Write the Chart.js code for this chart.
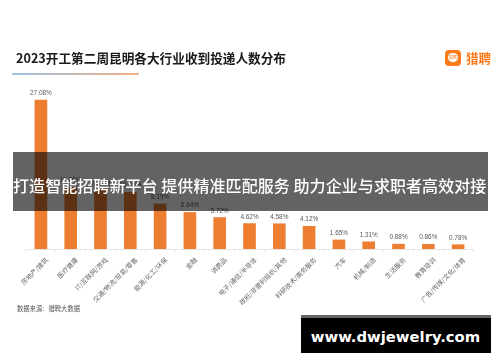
<!DOCTYPE html>
<html><head><meta charset="utf-8">
<script src="https://cdn.jsdelivr.net/npm/chart.js@4"></script>
<style>
html,body{margin:0;padding:0;background:#fff;width:500px;height:362px;overflow:hidden;font-family:"Noto Sans CJK SC","Noto Sans",sans-serif}
#wrap{position:absolute;left:0;top:0;width:500px;height:362px;filter:blur(.45px)}
#wrap canvas{position:absolute;left:0;top:0}
.a{position:absolute;white-space:nowrap}
</style></head><body>
<div id="wrap">
<canvas id="c" width="500" height="362"></canvas>
<div class="a" style="left:16px;top:48.5px;font-size:12.65px;line-height:18px;font-weight:700;color:#1a1a1a">2023开工第二周昆明各大行业收到投递人数分布</div>
<div class="a" style="left:12px;top:73px;width:127px;height:2px;background:linear-gradient(90deg,#9dc3e6,#f4b183)"></div>
<div class="a" style="left:445px;top:50px;width:16px;height:16px;border-radius:4px;background:#ff7a1a"></div>
<div class="a" style="left:448px;top:53px;width:10px;height:9px;border-radius:5px;background:#fff;color:#ff7a1a;font-size:4px;line-height:9px;text-align:center">猎聘</div>
<div class="a" style="left:466px;top:49px;font-size:12.6px;line-height:18px;font-weight:700;color:#ff7a1a">猎聘</div>
<div class="a" style="left:17px;top:304px;font-size:6.3px;line-height:10px;color:#555">数据来源：猎聘大数据</div>
<div class="a" style="left:13px;top:152px;width:475px;height:59px;background:rgba(0,0,0,.61)"></div>
<div class="a" style="left:13px;top:172px;font-size:16px;letter-spacing:.07px;line-height:26px;font-weight:500;color:#fff">打造智能招聘新平台 提供精准匹配服务 助力企业与求职者高效对接</div>
<div class="a" style="left:301px;top:315px;width:190px;height:38px;background:#000"></div>
<div class="a" style="left:301px;top:315px;width:190px;height:3px;background:#666"></div>
<div class="a" style="left:310px;top:326px;width:171px;text-align:center;font-family:'DejaVu Sans';font-size:14.8px;line-height:22px;font-weight:700;color:#fff">www.dwjewelry.com</div>
</div>
<script>
const categories=["房地产/建筑","医疗健康","IT/互联网/游戏","交通/物流/贸易/零售","能源/化工/环保","金融","消费品","电子/通信/半导体","政府/非营利组织/其他","科研技术/商务服务","汽车","机械/制造","生活服务","教育培训","广告/传媒/文化/体育"];
const shares=[27.08,11.2,10.8,10.3,8.19,6.64,5.72,4.62,4.58,4.12,1.65,1.31,0.88,0.86,0.78];
const labelPlugin={id:'valueLabels',afterDatasetsDraw(chart){
  const g=chart.ctx,m=chart.getDatasetMeta(0);
  g.save();g.font='6.4px "Liberation Sans"';g.fillStyle='#595959';g.textAlign='center';g.textBaseline='alphabetic';
  m.data.forEach((b,i)=>g.fillText(shares[i].toFixed(2)+'%',b.x,b.y-5));
  g.restore();
}};
new Chart(document.getElementById('c'),{
  type:'bar',
  data:{labels:categories,datasets:[{data:shares,backgroundColor:'#ED7D31',barThickness:12}]},
  plugins:[labelPlugin],
  options:{
    responsive:false,animation:false,
    layout:{padding:{left:26,right:27,top:84,bottom:0}},
    plugins:{legend:{display:false},tooltip:{enabled:false}},
    scales:{
      y:{display:false,min:0,max:30},
      x:{
        afterFit(s){s.height=113},
        border:{color:'#e4e4e4'},
        grid:{display:true,drawOnChartArea:false,drawTicks:true,tickLength:3,color:'#e4e4e4'},
        ticks:{color:'#666',font:{size:6.5,family:'"Noto Sans CJK SC"'},maxRotation:45,minRotation:45,autoSkip:false,padding:4,labelOffset:6}
      }
    }
  }
});
</script>
</body></html>
